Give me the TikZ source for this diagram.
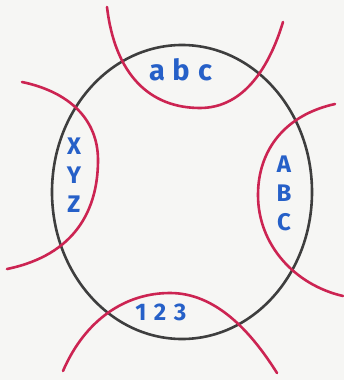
\documentclass[tikz,border=0pt]{standalone}
\usepackage{fontspec}
\setmainfont{Fira Sans}
\definecolor{paper}{RGB}{246,246,244}
\definecolor{ink}{RGB}{62,62,62}
\definecolor{redink}{RGB}{204,36,82}
\definecolor{blueink}{RGB}{38,96,200}
\begin{document}
\begin{tikzpicture}[x=1pt,y=-1pt,
  ring/.style={draw=ink,line width=2.6pt},
  arcline/.style={draw=redink,line width=2.6pt,line cap=round},
  lbl/.style={text=blueink,font=\fontsize{24}{28}\selectfont\bfseries,inner sep=0pt},
  vlbl/.style={lbl,align=center,font=\fontsize{24}{29}\selectfont\bfseries}]
\fill[paper] (0,0) rectangle (344,380);
\useasboundingbox (0,0) rectangle (344,380);
% circle
\draw[ring] (182,192) ellipse [x radius=130, y radius=147];
% red arcs
\draw[arcline] (107,7) .. controls (115,75) and (150,108) .. (200,108) .. controls (245,108) and (270,65) .. (283,22);
\draw[arcline] (22,82) .. controls (70,92) and (98,120) .. (98,160) .. controls (98,210) and (75,255) .. (7,269);
\draw[arcline] (335,104) .. controls (285,115) and (258,150) .. (258,195) .. controls (258,245) and (295,285) .. (343,296);
\draw[arcline] (63,371) .. controls (85,320) and (125,293) .. (170,293) .. controls (215,293) and (250,330) .. (277,373);
% labels
\node[lbl,font=\fontsize{29}{32}\selectfont\bfseries] (top) at (181,70) {\makebox[24pt]{a}\makebox[24pt]{b}\makebox[24pt]{c}};
\node[vlbl] (left) at (74,175) {X\\Y\\Z};
\node[vlbl] (right) at (284,193) {A\\B\\C};
\node[lbl] (bottom) at (161,312) {\makebox[18pt]{1}\makebox[20pt]{2}\makebox[20pt]{3}};
\end{tikzpicture}
\end{document}
